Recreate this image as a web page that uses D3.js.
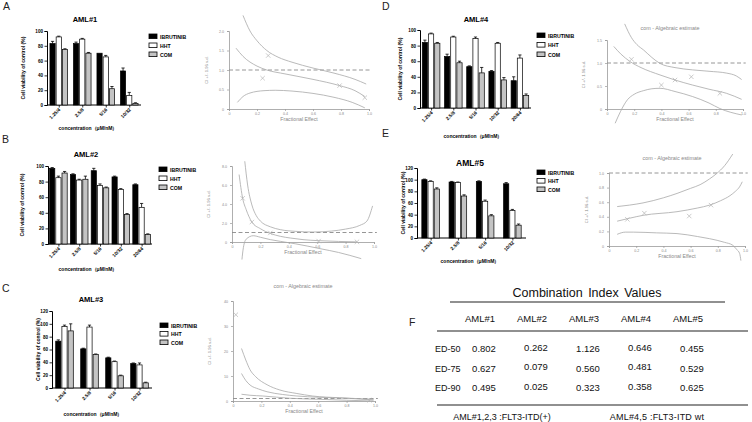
<!DOCTYPE html>
<html><head><meta charset="utf-8">
<script src="https://cdn.jsdelivr.net/npm/d3@7"></script>
<style>body{margin:0;background:#fff}svg{display:block;font-family:"Liberation Sans",Arial,sans-serif}</style>
</head><body>
<svg id="c" width="752" height="422"></svg>
<script>
// ---------- DATA ----------
const series = ["IBRUTINIB", "HHT", "COM"];
const conc4 = ["1.25/4", "2.5/8", "5/16", "10/32"];
const conc5 = ["1.25/4", "2.5/8", "5/16", "10/32", "20/64"];

const aml1Ibr = [83, 83, 70, 46], aml1Hht = [92, 89, 65, 13], aml1Com = [75, 70, 22, 2];
const aml1IbrErr = [3, 2, 0, 4], aml1HhtErr = [1, 1, 2, 4], aml1ComErr = [1, 1, 3, 1];
const aml2Ibr = [97, 89, 94, 86, 76], aml2Hht = [85, 82, 75, 70, 47], aml2Com = [91, 83, 72, 38, 12];
const aml2IbrErr = [1, 1, 3, 1, 1], aml2HhtErr = [2, 1, 2, 1, 5], aml2ComErr = [2, 4, 1, 1, 1];
const aml3Ibr = [73, 61, 47, 38], aml3Hht = [96, 95, 41, 36], aml3Com = [89, 52, 19, 8];
const aml3IbrErr = [2, 1, 1, 1], aml3HhtErr = [2, 3, 1, 3], aml3ComErr = [11, 1, 1, 1];
const aml4Ibr = [84, 66, 53, 47, 35], aml4Hht = [95, 91, 89, 83, 64], aml4Com = [83, 58, 45, 36, 16];
const aml4IbrErr = [3, 3, 1, 1, 5], aml4HhtErr = [1, 1, 2, 1, 4], aml4ComErr = [1, 2, 7, 3, 2];
const aml5Ibr = [100, 96, 97, 93], aml5Hht = [97, 95, 63, 47], aml5Com = [84, 72, 38, 22];
const aml5IbrErr = [1, 1, 1, 2], aml5HhtErr = [1, 1, 2, 2], aml5ComErr = [2, 2, 2, 2];

// CI (fraction affected, CI) curves: upper bound, estimate, lower bound, data points
const ciAUp = [[0.1,2.4],[0.15,2.0],[0.2,1.75],[0.27,1.5],[0.35,1.33],[0.45,1.2],[0.6,1.05],[0.75,0.92],[0.9,0.76],[0.98,0.64]];
const ciAMid = [[0.05,1.56],[0.1,1.35],[0.2,1.1],[0.27,1.0],[0.4,0.9],[0.6,0.76],[0.79,0.6],[0.9,0.47],[0.97,0.32]];
const ciALow = [[0.06,0.17],[0.1,0.32],[0.15,0.41],[0.25,0.47],[0.33,0.48],[0.45,0.46],[0.6,0.4],[0.75,0.3],[0.88,0.17],[0.97,0.03]];
const ciAPts = [[0.28,1.37],[0.24,0.79],[0.79,0.6],[0.97,0.29]];

const ciBUp = [[0.09,8.5],[0.11,6.0],[0.14,3.9],[0.17,2.8],[0.2,2.2],[0.27,1.6],[0.34,1.3],[0.45,1.12],[0.57,1.05],[0.7,1.15],[0.8,1.36],[0.9,1.75],[0.95,2.2],[0.99,3.8]];
const ciBMid = [[0.05,7.1],[0.075,4.6],[0.1,3.4],[0.14,2.1],[0.2,1.4],[0.27,0.9],[0.34,0.6],[0.41,0.42],[0.5,0.25],[0.61,0.14],[0.75,0.06],[0.88,0.01]];
const ciBLow = [[0.07,-1.85],[0.08,-0.6],[0.1,0.3],[0.15,0.66],[0.2,0.5],[0.27,0.25],[0.34,0.07],[0.45,-0.2],[0.62,-0.7],[0.75,-1.1],[0.91,-1.75]];
const ciBPts = [[0.075,4.6],[0.14,2.1],[0.27,0.95],[0.61,0.1],[0.88,0.02]];

const ciCUp = [[0.06,21],[0.09,16.4],[0.12,12.5],[0.16,9.7],[0.24,6.5],[0.33,4.4],[0.45,3.0],[0.56,2.0],[0.75,1.3],[0.99,0.7]];
const ciCMid = [[0.06,11],[0.09,8.2],[0.12,6.4],[0.18,4.8],[0.24,3.7],[0.35,2.6],[0.45,2.0],[0.6,1.5],[0.8,1.1],[0.99,0.4]];
const ciCLow = [[0.06,2.7],[0.12,2.3],[0.21,2.0],[0.4,1.1],[0.6,0.7],[0.8,0.3],[0.99,0.0]];
const ciCPts = [[0.02,34.5],[0.96,0.3]];

const ciDUp = [[0.13,1.85],[0.18,1.55],[0.22,1.4],[0.27,1.28],[0.33,1.12],[0.39,0.99],[0.5,0.9],[0.63,0.85],[0.75,0.82],[0.88,0.78],[0.95,0.72],[0.99,0.64]];
const ciDMid = [[0.05,1.36],[0.1,1.2],[0.17,1.03],[0.25,0.9],[0.39,0.74],[0.5,0.63],[0.63,0.52],[0.75,0.43],[0.88,0.34],[0.99,0.21]];
const ciDLow = [[0.06,-0.31],[0.1,-0.05],[0.15,0.2],[0.2,0.32],[0.27,0.4],[0.33,0.44],[0.39,0.45],[0.5,0.38],[0.63,0.27],[0.75,0.13],[0.83,0.01],[0.99,-0.13]];
const ciDPts = [[0.18,1.08],[0.4,0.52],[0.5,0.63],[0.62,0.7],[0.83,0.34]];

const ciEUp = [[0.06,0.54],[0.15,0.56],[0.25,0.59],[0.4,0.66],[0.5,0.72],[0.6,0.79],[0.67,0.84],[0.74,0.92],[0.79,0.99],[0.85,1.1],[0.91,1.26]];
const ciEMid = [[0.06,0.34],[0.15,0.38],[0.25,0.42],[0.5,0.47],[0.65,0.52],[0.74,0.56],[0.82,0.62],[0.89,0.69],[0.93,0.75],[0.96,0.81],[0.98,0.88]];
const ciELow = [[0.06,0.16],[0.12,0.19],[0.18,0.19],[0.35,0.18],[0.5,0.17],[0.65,0.13],[0.74,0.1],[0.85,0.05],[0.91,0.01],[0.94,-0.05],[0.96,-0.1],[0.97,-0.2]];
const ciEPts = [[0.135,0.365],[0.26,0.45],[0.59,0.41],[0.75,0.56]];

const tableCols = ["AML#1", "AML#2", "AML#3", "AML#4", "AML#5"];
const tableRows = ["ED-50", "ED-75", "ED-90"];
const ed50 = ["0.802", "0.262", "1.126", "0.646", "0.455"];
const ed75 = ["0.627", "0.079", "0.560", "0.481", "0.529"];
const ed90 = ["0.495", "0.025", "0.323", "0.358", "0.625"];
const fa = [0, 0.2, 0.4, 0.6, 0.8, 1.0];

// ---------- DRAW ----------
const svg = d3.select("#c");
svg.append("rect").attr("width", 752).attr("height", 422).attr("fill", "#fff");

const fills = ["#000", "#fff", "#c4c4c4"];

function barChart(o) {
  const g = svg.append("g");
  const x = d3.scalePoint().domain(o.cats).range([o.x0, o.x1]).padding(0.5);
  const y = d3.scaleLinear().domain([0, o.yMax]).range([o.yB, o.yT]);
  const ya = g.append("g").attr("transform", `translate(${o.x0},0)`)
    .call(d3.axisLeft(y).ticks(o.yMax / 20).tickSize(2.5).tickPadding(1.5).tickFormat(d3.format("d")));
  ya.select(".domain").attr("stroke", "#000").attr("stroke-width", 1);
  ya.selectAll(".tick line").attr("stroke", "#000").attr("stroke-width", 0.8);
  ya.selectAll(".tick text").attr("font-size", 4.6).attr("font-weight", "bold").attr("fill", "#000");
  const xa = g.append("g").attr("transform", `translate(0,${o.yB})`)
    .call(d3.axisBottom(x).tickSize(2.5).tickFormat(""));
  xa.select(".domain").attr("d", `M${o.x0},0H${o.x1}`).attr("stroke", "#000").attr("stroke-width", 1);
  xa.selectAll(".tick line").attr("stroke", "#000").attr("stroke-width", 0.8);
  g.selectAll("text.xl").data(o.cats).join("text")
    .attr("transform", d => `translate(${x(d) + 2},${o.yB + 5}) rotate(-45)`)
    .attr("text-anchor", "end").attr("font-size", 4.8).attr("font-weight", "bold").text(d => d);
  const bw = 5.2, off = 6.2;
  o.vals.forEach((vals, i) => {
    vals.forEach((v, j) => {
      const cx = x(o.cats[j]) + (i - 1) * off;
      const e = o.errs[i][j];
      if (e > 0) {
        g.append("line").attr("x1", cx).attr("x2", cx).attr("y1", y(v)).attr("y2", y(v + e)).attr("stroke", "#000").attr("stroke-width", 0.8);
        g.append("line").attr("x1", cx - 1.6).attr("x2", cx + 1.6).attr("y1", y(v + e)).attr("y2", y(v + e)).attr("stroke", "#000").attr("stroke-width", 0.8);
      }
      g.append("rect").attr("x", cx - bw / 2).attr("y", y(v)).attr("width", bw).attr("height", o.yB - y(v))
        .attr("fill", fills[i]).attr("stroke", "#000").attr("stroke-width", 0.7);
    });
  });
  g.append("text").attr("x", o.tx).attr("y", o.ty).attr("text-anchor", "middle").attr("font-size", o.tfs || 7.5).attr("font-weight", "bold").text(o.title);
  g.append("text").attr("transform", `translate(${o.ytx},${(o.yB + o.yT) / 2}) rotate(-90)`)
    .attr("text-anchor", "middle").attr("font-size", 5).attr("font-weight", "bold").text("Cell viability of control (%)");
  g.append("text").attr("x", o.xlx).attr("y", o.xly).attr("text-anchor", "middle").attr("font-size", 5).attr("font-weight", "bold").text("concentration（μM/nM）");
  series.forEach((s, i) => {
    const ly = o.ly + i * o.lstep;
    g.append("rect").attr("x", o.lx).attr("y", ly).attr("width", 8).attr("height", 4.6).attr("fill", fills[i]).attr("stroke", "#000").attr("stroke-width", 0.8);
    g.append("text").attr("x", o.lx + 11).attr("y", ly + 4.5).attr("font-size", 5.2).attr("font-weight", "bold").text(s);
  });
}

function ciChart(o) {
  const g = svg.append("g");
  const x = d3.scaleLinear().domain([0, 1]).range([o.x0, o.x1]);
  const y = d3.scaleLinear().domain([0, o.yMax]).range([o.yB, o.yT]);
  const col = "#9a9a9a";
  const ya = g.append("g").attr("transform", `translate(${o.x0},0)`)
    .call(d3.axisLeft(y).tickValues(o.yTicks).tickSize(2).tickPadding(3).tickFormat(o.fmt));
  const xa = g.append("g").attr("transform", `translate(0,${o.yB})`)
    .call(d3.axisBottom(x).tickValues(fa).tickSize(2).tickPadding(1).tickFormat(d => d === 0 ? "0" : d3.format(".1f")(d)));
  [ya, xa].forEach(a => {
    a.select(".domain").attr("stroke", col).attr("stroke-width", 0.8);
    a.selectAll(".tick line").attr("stroke", col).attr("stroke-width", 0.7);
    a.selectAll(".tick text").attr("font-size", 3.6).attr("fill", "#888");
  });
  g.append("line").attr("x1", x(0)).attr("x2", x(1.02)).attr("y1", y(1)).attr("y2", y(1))
    .attr("stroke", "#8a8a8a").attr("stroke-width", 0.9).attr("stroke-dasharray", "4,2.5");
  const line = d3.line().x(d => x(d[0])).y(d => y(d[1])).curve(d3.curveMonotoneX);
  o.curves.forEach(c => g.append("path").attr("d", line(c)).attr("fill", "none").attr("stroke", "#a8a8a8").attr("stroke-width", 0.8));
  o.pts.forEach(p => {
    const px = x(p[0]), py = y(p[1]), s = 2.2;
    g.append("path").attr("d", `M${px - s},${py - s}L${px + s},${py + s}M${px - s},${py + s}L${px + s},${py - s}`)
      .attr("stroke", "#b5b5b5").attr("stroke-width", 0.7);
  });
  g.append("text").attr("transform", `translate(${o.ytx},${(o.yB + o.yT) / 2}) rotate(-90)`)
    .attr("text-anchor", "middle").attr("font-size", 4.2).attr("fill", "#888").text("CI +/- 1.96 s.d.");
  g.append("text").attr("x", (o.x0 + o.x1) / 2).attr("y", o.yB + 12).attr("text-anchor", "middle")
    .attr("font-size", 5.2).attr("fill", "#888").attr("font-family", "'Liberation Sans Narrow','Liberation Sans',Arial").text("Fractional Effect");
  if (o.title) g.append("text").attr("x", o.tx).attr("y", o.ty).attr("text-anchor", "middle")
    .attr("font-size", 5.4).attr("fill", "#888").attr("font-family", "'Liberation Sans Narrow','Liberation Sans',Arial").text(o.title);
}

// panel letters
[["A", 3, 10], ["B", 2, 143], ["C", 2, 292], ["D", 382, 10], ["E", 382, 137], ["F", 409, 326]].forEach(d =>
  svg.append("text").attr("x", d[1]).attr("y", d[2]).attr("font-size", 10.5).attr("fill", "#222").text(d[0]));

barChart({cats: conc4, vals: [aml1Ibr, aml1Hht, aml1Com], errs: [aml1IbrErr, aml1HhtErr, aml1ComErr],
  x0: 47, x1: 141, yB: 105, yT: 31, yMax: 100, title: "AML#1", tx: 85, ty: 22, ytx: 25, xlx: 88, xly: 130, lx: 149, ly: 34, lstep: 9});
barChart({cats: conc5, vals: [aml2Ibr, aml2Hht, aml2Com], errs: [aml2IbrErr, aml2HhtErr, aml2ComErr],
  x0: 48, x1: 152, yB: 244, yT: 166, yMax: 100, title: "AML#2", tx: 86, ty: 157, ytx: 24, xlx: 88, xly: 271, lx: 159, ly: 167, lstep: 9});
barChart({cats: conc4, vals: [aml3Ibr, aml3Hht, aml3Com], errs: [aml3IbrErr, aml3HhtErr, aml3ComErr],
  x0: 52, x1: 152, yB: 388, yT: 311, yMax: 120, title: "AML#3", tx: 91, ty: 302, ytx: 40, xlx: 93, xly: 416, lx: 160, ly: 323, lstep: 8.5});
barChart({cats: conc5, vals: [aml4Ibr, aml4Hht, aml4Com], errs: [aml4IbrErr, aml4HhtErr, aml4ComErr],
  x0: 420, x1: 531, yB: 108, yT: 30, yMax: 100, title: "AML#4", tx: 476, ty: 22, ytx: 402, xlx: 473, xly: 138, lx: 537, ly: 33, lstep: 9.5});
barChart({cats: conc4, vals: [aml5Ibr, aml5Hht, aml5Com], errs: [aml5IbrErr, aml5HhtErr, aml5ComErr],
  x0: 417, x1: 526, yB: 238, yT: 168, yMax: 120, title: "AML#5", tx: 470, ty: 166, tfs: 8.5, ytx: 405, xlx: 470, xly: 263, lx: 537, ly: 170, lstep: 8.5});

const f1 = d => d === 0 ? "0" : d3.format(".1f")(d);
ciChart({x0: 229, x1: 369, yB: 109, yT: 31, yMax: 2, yTicks: [0, 0.5, 1, 1.5, 2], fmt: f1,
  curves: [ciAUp, ciAMid, ciALow], pts: ciAPts, ytx: 208});
ciChart({x0: 232, x1: 374, yB: 242, yT: 166, yMax: 8, yTicks: [0, 2, 4, 6, 8], fmt: f1,
  curves: [ciBUp, ciBMid, ciBLow], pts: ciBPts, ytx: 210});
ciChart({x0: 233, x1: 375, yB: 401, yT: 301, yMax: 40, yTicks: [0, 10, 20, 30, 40], fmt: d3.format("d"),
  curves: [ciCUp, ciCMid, ciCLow], pts: ciCPts, ytx: 211, title: "com - Algebraic estimate", tx: 303, ty: 288});
ciChart({x0: 607, x1: 743, yB: 109, yT: 40, yMax: 1.5, yTicks: [0, 0.5, 1, 1.5], fmt: f1,
  curves: [ciDUp, ciDMid, ciDLow], pts: ciDPts, ytx: 585, title: "com - Algebraic estimate", tx: 670, ty: 30});
ciChart({x0: 609, x1: 745, yB: 246, yT: 173, yMax: 1.0, yTicks: [0, 0.2, 0.4, 0.6, 0.8, 1.0], fmt: f1,
  curves: [ciEUp, ciEMid, ciELow], pts: ciEPts, ytx: 588, title: "com - Algebraic estimate", tx: 672, ty: 160});

// ---------- TABLE F ----------
const tg = svg.append("g").attr("fill", "#111");
const cx = d3.scalePoint().domain(tableCols).range([480, 688]);
const ry = d3.scalePoint().domain(tableRows).range([352, 391]);
tg.append("text").attr("x", 587).attr("y", 297).attr("text-anchor", "middle").attr("font-size", 12.5)
  .attr("word-spacing", 2).text("Combination Index Values");
[[450, 725, 302], [437, 748, 331], [437, 748, 405]].forEach(l =>
  tg.append("line").attr("x1", l[0]).attr("x2", l[1]).attr("y1", l[2]).attr("y2", l[2]).attr("stroke", "#222").attr("stroke-width", 1.2));
tableCols.forEach(c => tg.append("text").attr("x", cx(c)).attr("y", 322).attr("text-anchor", "middle").attr("font-size", 9.5).text(c));
const rowsVals = [ed50, ed75, ed90];
tableRows.forEach((r, i) => {
  tg.append("text").attr("x", 435).attr("y", ry(r)).attr("font-size", 9).text(r);
  rowsVals[i].forEach((v, j) => tg.append("text").attr("x", cx(tableCols[j]) + 4).attr("y", ry(r) - (j === 1 || j === 3 ? 1.5 : 0))
    .attr("text-anchor", "middle").attr("font-size", 9.5).text(v));
});
tg.append("text").attr("x", 502).attr("y", 420).attr("text-anchor", "middle").attr("font-size", 9).text("AML#1,2,3 :FLT3-ITD(+)");
tg.append("text").attr("x", 657).attr("y", 420).attr("text-anchor", "middle").attr("font-size", 9).attr("letter-spacing", 0.2).text("AML#4,5 :FLT3-ITD wt");
</script>
</body></html>
